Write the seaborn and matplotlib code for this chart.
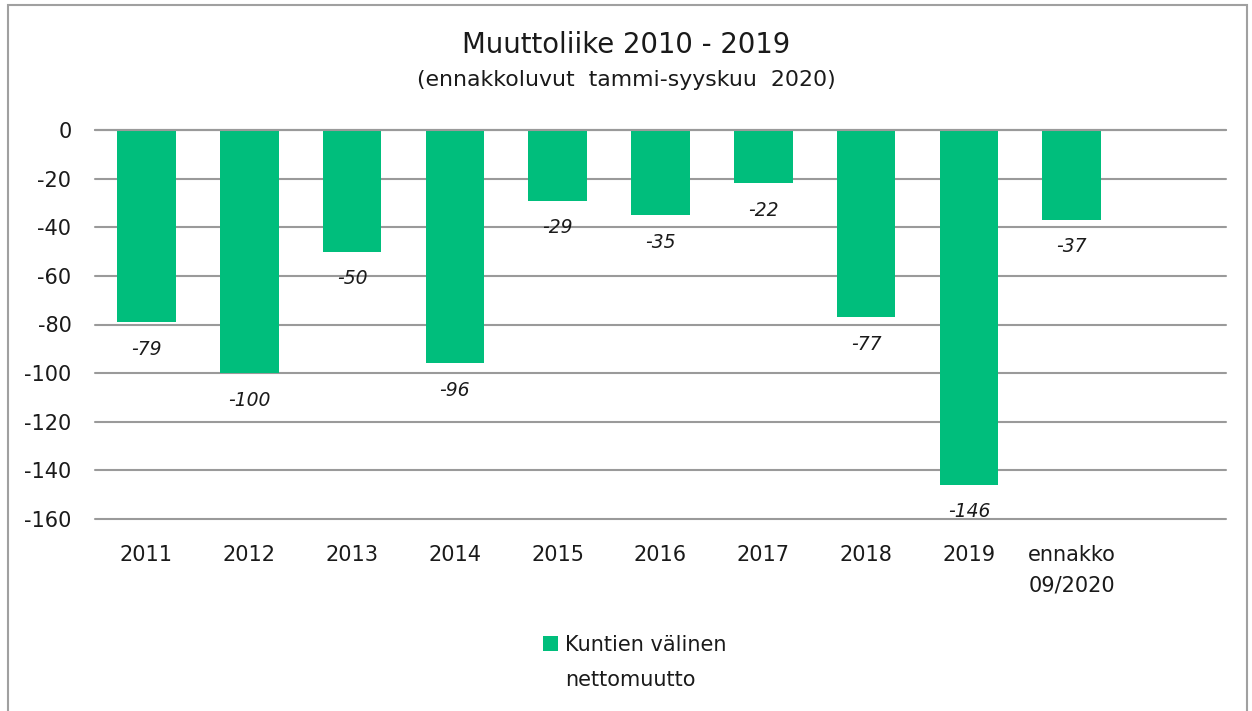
import numpy as np
import pandas as pd
import matplotlib
matplotlib.use("Agg")
import matplotlib.pyplot as plt
from matplotlib.patches import Rectangle
import seaborn as sns

categories = ['2011', '2012', '2013', '2014', '2015', '2016', '2017', '2018', '2019', 'ennakko\n09/2020']
values = [-79, -100, -50, -96, -29, -35, -22, -77, -146, -37]
series_first = 'Kuntien välinen'
series_second = 'nettomuutto'
yticks = [0, -20, -40, -60, -80, -100, -120, -140, -160]

green = '#00BE7C'
grid_gray = '#9a9a9a'
txt = '#1a1a1a'

sns.set_theme(style='white')
plt.rcParams['font.family'] = ['DejaVu Sans']

df = pd.DataFrame({'cat': categories, 'val': values, 'series': series_first})

fig = plt.figure(figsize=(12.52, 7.11), dpi=100)
ax = fig.add_axes([95 / 1252, 1 - 519 / 711, (1226 - 95) / 1252, (519 - 130) / 711])

sns.barplot(data=df, x='cat', y='val', hue='series', palette=[green],
            width=0.57, linewidth=0, saturation=1, ax=ax, legend=True)

ax.set_xlim(-0.5, 10.5)
ax.set_ylim(-160, 0)
ax.set_yticks(yticks)
ax.set_yticklabels([str(v) for v in yticks], fontsize=15, color=txt)
ax.yaxis.grid(True, color=grid_gray, linewidth=1.5)
for gl in ax.get_ygridlines():
    gl.set_clip_on(False)
ax.axhline(0, color=grid_gray, linewidth=1.5, zorder=5, clip_on=False)
ax.set_axisbelow(True)
for s in ax.spines.values():
    s.set_visible(False)
ax.tick_params(axis='y', length=0, pad=17)
ax.tick_params(axis='x', length=0, pad=19)
for lab in ax.get_xticklabels():
    lab.set_fontsize(15)
    lab.set_color(txt)
    lab.set_linespacing(1.65)
    lab.set_verticalalignment('top')
ax.set_xlabel('')
ax.set_ylabel('')

# data labels
for i, v in enumerate(values):
    ax.annotate(str(v), xy=(i, v), xytext=(0, -27), textcoords='offset pixels',
                ha='center', va='center', fontsize=13.5, style='italic', color=txt)

# legend
ax.get_legend().remove()
handles, labels = ax.get_legend_handles_labels()
leg = fig.legend(handles, labels, loc='center', bbox_to_anchor=(0.507, 1 - 645 / 711),
                 frameon=False, fontsize=15, handlelength=0.75, handleheight=0.75,
                 handletextpad=0.35, borderpad=0)
for t in leg.get_texts():
    t.set_color(txt)

fig.canvas.draw()
bb = leg.get_texts()[0].get_window_extent()
fig.text(bb.x0 / 1252, (bb.y0 - 35) / 711, series_second, ha='left', va='bottom',
         fontsize=15, color=txt)

fig.text(0.5, 1 - 45 / 711, 'Muuttoliike 2010 - 2019', ha='center', va='center',
         fontsize=19.8, color=txt)
fig.text(0.5, 1 - 80 / 711, '(ennakkoluvut  tammi-syyskuu  2020)', ha='center', va='center',
         fontsize=15.8, color=txt)

fig.patches.append(Rectangle((8 / 1252, -0.02), 1239 / 1252, 1 + 0.02 - 5 / 711,
                             transform=fig.transFigure, fill=False,
                             edgecolor='#a0a0a0', linewidth=1.5))

fig.savefig('out.png', dpi=100)
